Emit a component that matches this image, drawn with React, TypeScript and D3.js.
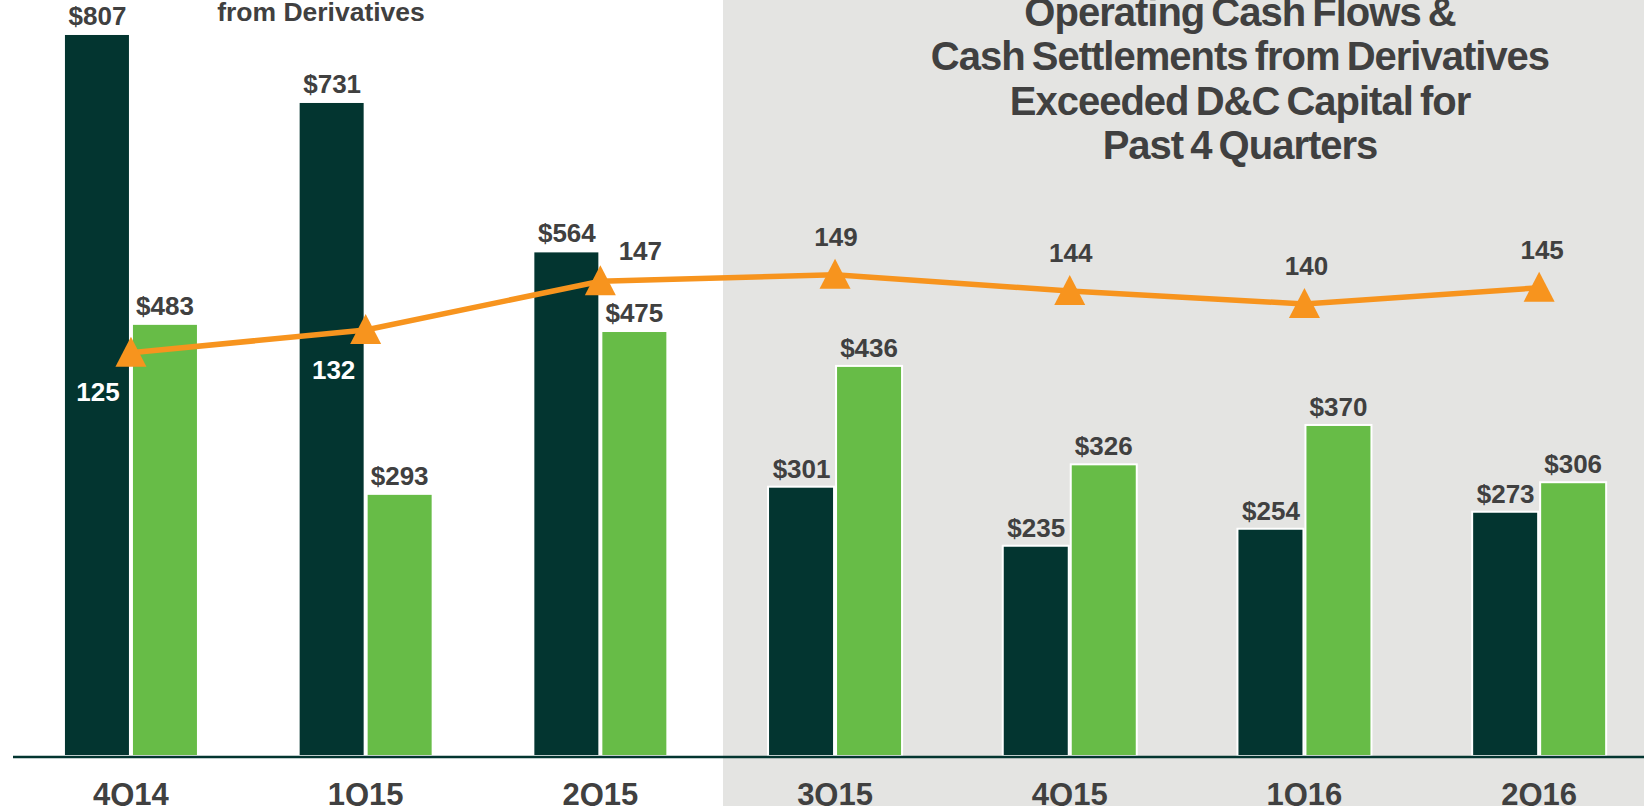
import React from "react";
import * as d3 from "d3";

const categories = ["4Q14", "1Q15", "2Q15", "3Q15", "4Q15", "1Q16", "2Q16"];
const operatingCash = [807, 731, 564, 301, 235, 254, 273];
const dcCapital = [483, 293, 475, 436, 326, 370, 306];
const lineValues = [125, 132, 147, 149, 144, 140, 145];
const titleLines = [
  "Operating Cash Flows &",
  "Cash Settlements from Derivatives",
  "Exceeded D&C Capital for",
  "Past 4 Quarters",
];

const W = 1644;
const H = 806;
const FONT = "'Liberation Sans', Arial, Helvetica, sans-serif";
const DARK = "#033530";
const LIGHT = "#67BC47";
const ORANGE = "#F7941E";
const TEXT = "#404040";
const GRAY = "#E4E4E2";

// label placement for line labels: [dx, dy, color]
const lineLabelPlacement: [number, number, string][] = [
  [-33, 48, "#ffffff"],
  [-32, 49, "#ffffff"],
  [40, -21, TEXT],
  [1, -29, TEXT],
  [1, -29, TEXT],
  [2, -29, TEXT],
  [3, -29, TEXT],
];

export default function App() {
  React.useEffect(() => {
    document.body.style.margin = "0";
  }, []);

  const x = d3
    .scaleBand<string>()
    .domain(categories)
    .range([13.6, 13.6 + 7 * 234.7])
    .padding(0);
  const cx = (c: string) => (x(c) as number) + x.bandwidth() / 2;

  const baseY = 756;
  const y = d3.scaleLinear().domain([0, 900]).range([baseY, baseY - 900 * 0.8947]);
  const y2 = d3.scaleLinear().domain([0, 250]).range([759, 759 - 250 * 3.25]);

  const pts: [number, number][] = categories.map((c, i) => [cx(c), y2(lineValues[i])]);
  const line = d3.line<[number, number]>().x((d) => d[0]).y((d) => d[1]);
  const triPath = d3.path();
  triPath.moveTo(0, -16);
  triPath.lineTo(15.5, 14);
  triPath.lineTo(-15.5, 14);
  triPath.closePath();
  const tri = triPath.toString();

  return (
    <svg
      width={W}
      height={H}
      style={{ position: "absolute", left: 0, top: 0, display: "block" }}
      fontFamily={FONT}
    >
      <rect x={0} y={0} width={W} height={H} fill="#ffffff" />
      <rect x={723} y={0} width={W - 723} height={H} fill={GRAY} />

      {/* bars */}
      {categories.map((c, i) => {
        const c0 = cx(c);
        return (
          <g key={c}>
            <rect
              x={c0 - 67}
              y={y(operatingCash[i])}
              width={66}
              height={baseY - y(operatingCash[i])}
              fill={DARK}
              stroke="#ffffff"
              strokeWidth={2}
            />
            <rect
              x={c0 + 1}
              y={y(dcCapital[i])}
              width={66}
              height={baseY - y(dcCapital[i])}
              fill={LIGHT}
              stroke="#ffffff"
              strokeWidth={2}
            />
            <text
              x={c0 - 33.5}
              y={y(operatingCash[i]) - 9}
              textAnchor="middle"
              fontSize={26}
              fontWeight="bold"
              fill={TEXT}
            >
              {"$" + operatingCash[i]}
            </text>
            <text
              x={c0 + 34}
              y={y(dcCapital[i]) - 9}
              textAnchor="middle"
              fontSize={26}
              fontWeight="bold"
              fill={TEXT}
            >
              {"$" + dcCapital[i]}
            </text>
            <text
              x={c0}
              y={805}
              textAnchor="middle"
              fontSize={31}
              fontWeight="bold"
              fill={TEXT}
            >
              {c}
            </text>
          </g>
        );
      })}

      {/* baseline */}
      <line x1={13} x2={W} y1={757} y2={757} stroke={DARK} strokeWidth={2.5} />

      {/* line series */}
      <path d={line(pts) || ""} fill="none" stroke={ORANGE} strokeWidth={5.5} />
      {pts.map((p, i) => (
        <g key={i}>
          <path d={tri} transform={`translate(${p[0]},${p[1]})`} fill={ORANGE} />
          <text
            x={p[0] + lineLabelPlacement[i][0]}
            y={p[1] + lineLabelPlacement[i][1]}
            textAnchor="middle"
            fontSize={26}
            fontWeight="bold"
            fill={lineLabelPlacement[i][2]}
          >
            {lineValues[i]}
          </text>
        </g>
      ))}

      {/* partial top-left text */}
      <text x={321} y={21} textAnchor="middle" fontSize={26.5} fontWeight="bold" fill={TEXT}>
        from Derivatives
      </text>

      {/* title */}
      {titleLines.map((t, i) => (
        <text
          key={i}
          x={1240}
          y={26 + i * 44.4}
          textAnchor="middle"
          fontSize={40}
          fontWeight="bold"
          fill={TEXT}
          letterSpacing={-1}
          wordSpacing={-3}
        >
          {t}
        </text>
      ))}
    </svg>
  );
}
